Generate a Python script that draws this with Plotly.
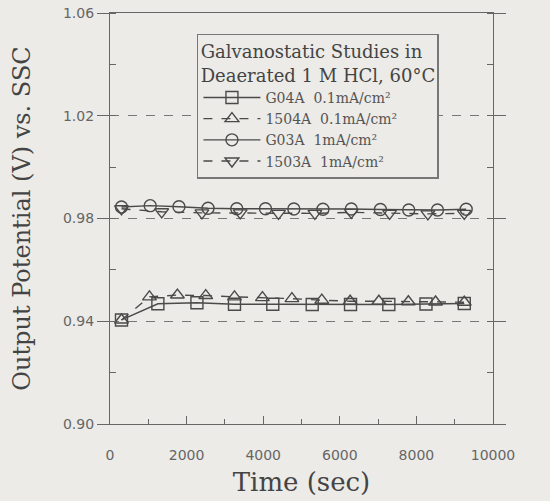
import plotly.graph_objects as go

# ---- data ----
t_g04a = [300, 1250, 2270, 3250, 4250, 5280, 6280, 7280, 8250, 9250]
v_g04a = [0.9405, 0.9468, 0.9472, 0.9466, 0.9466, 0.9465, 0.9465, 0.9465, 0.9467, 0.9469]

t_1504a = [300, 1030, 1760, 2500, 3250, 3980, 4750, 5530, 6270, 7020, 7790, 8500, 9250]
v_1504a = [0.9405, 0.9495, 0.9502, 0.9500, 0.9495, 0.9492, 0.9488, 0.9482, 0.9478, 0.9478, 0.9476, 0.9475, 0.9474]

t_g03a = [300, 1050, 1800, 2560, 3310, 4060, 4800, 5560, 6300, 7060, 7800, 8550, 9300]
v_g03a = [0.9845, 0.9850, 0.9846, 0.9840, 0.9838, 0.9838, 0.9837, 0.9836, 0.9837, 0.9835, 0.9833, 0.9833, 0.9836]

t_1503a = [300, 1350, 2400, 3400, 4400, 5350, 6300, 7300, 8300, 9250]
v_1503a = [0.9838, 0.9826, 0.9822, 0.9822, 0.9820, 0.9820, 0.9824, 0.9820, 0.9818, 0.9820]

names = ["G04A  0.1mA/cm²", "1504A  0.1mA/cm²", "G03A  1mA/cm²", "1503A  1mA/cm²"]
legend_title = "Galvanostatic Studies in<br>Deaerated 1 M HCl, 60°C"
x_ticks = [0, 2000, 4000, 6000, 8000, 10000]
x_ticktext = ["0", "2000", "4000", "6000", "8000", "10000"]
y_ticks = [0.90, 0.94, 0.98, 1.02, 1.06]

BG = "#ecebe7"
INK = "#4a4a4a"
SERIF = "DejaVu Serif"
SANS = "DejaVu Sans"

series = [
    (t_g04a, v_g04a, names[0], "square-open", "solid"),
    (t_1504a, v_1504a, names[1], "triangle-up-open", "dash"),
    (t_g03a, v_g03a, names[2], "circle-open", "solid"),
    (t_1503a, v_1503a, names[3], "triangle-down-open", "dash"),
]

fig = go.Figure()
for t, v, nm, sym, dash in series:
    fig.add_trace(go.Scatter(
        x=t, y=v, name=nm, mode="lines+markers",
        line=dict(color=INK, width=1.4, dash=dash),
        marker=dict(symbol=sym, size=12, color=INK, line=dict(width=1.4, color=INK)),
    ))

fig.update_layout(
    width=550, height=501,
    margin=dict(l=110, r=57, t=13, b=77),
    paper_bgcolor=BG, plot_bgcolor=BG,
    showlegend=True,
    legend=dict(
        title=dict(text=legend_title, side="top center",
                   font=dict(family=SERIF, size=18, color="#444")),
        x=0.227, y=0.95, xanchor="left", yanchor="top",
        bgcolor=BG, bordercolor="#777", borderwidth=1.5,
        font=dict(family=SERIF, size=14, color="#555"),
        itemwidth=57, tracegroupgap=0,
    ),
    xaxis=dict(
        range=[0, 10000], tickvals=x_ticks, ticktext=x_ticktext,
        ticks="inside", ticklen=8, tickcolor="#666", tickwidth=1,
        minor=dict(ticks="inside", ticklen=5, dtick=1000, tickcolor="#666"),
        showline=True, linecolor="#666", linewidth=1.2, mirror=True,
        showgrid=False, zeroline=False, automargin=False,
        tickfont=dict(family=SANS, size=14, color="#666"),
        ticklabelstandoff=18,
        title=dict(text="Time (sec)", font=dict(family=SERIF, size=26, color="#444"), standoff=10),
    ),
    yaxis=dict(
        range=[0.90, 1.06], tickvals=y_ticks, tickformat=".2f",
        ticks="outside", ticklen=12, tickcolor="#666", tickwidth=1,
        minor=dict(ticks="inside", ticklen=6, dtick=0.02, tickcolor="#666"),
        showline=True, linecolor="#666", linewidth=1.2, mirror="ticks",
        showgrid=True, gridcolor="#777", griddash="dash", gridwidth=1,
        zeroline=False, automargin=False,
        tickfont=dict(family=SANS, size=14, color="#666"),
        title=dict(text="Output Potential (V) vs. SSC",
                   font=dict(family=SERIF, size=24, color="#444"), standoff=25),
    ),
)

fig.write_html("out.html")
